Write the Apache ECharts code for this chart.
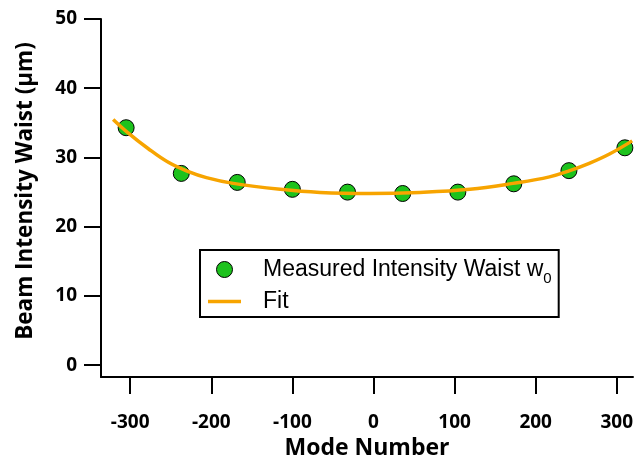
<!DOCTYPE html>
<html>
<head>
<meta charset="utf-8">
<script src="https://cdn.jsdelivr.net/npm/echarts@6/dist/echarts.min.js"></script>
<style>html,body{margin:0;padding:0;background:#fff}#c{width:638px;height:458px}</style>
</head>
<body>
<div id="c"></div>
<script>
// Measured data
var modeNumbers = [-305, -237, -168, -100, -32, 36, 104, 173, 241, 310];
var waistValues = [34.3, 27.7, 26.4, 25.4, 25.0, 24.8, 25.0, 26.2, 28.1, 31.4];
// Fit curve
var fitX = [-321, -303, -278, -253, -229, -206, -173, -115, -66, -5, 57, 119, 172, 217, 242, 266, 291, 319];
var fitY = [35.5, 33.6, 31.3, 29.3, 28.0, 27.1, 26.26, 25.4, 24.95, 24.8, 24.95, 25.4, 26.26, 27.2, 28.1, 29.15, 30.5, 32.4];
// Tick labels
var xTicks = [-300, -200, -100, 0, 100, 200, 300];
var yTicks = [0, 10, 20, 30, 40, 50];

var chart = echarts.init(document.getElementById('c'));
var labelFont = {fontFamily: 'Open Sans', fontWeight: 'bold', fontSize: 19, color: '#000'};
chart.setOption({
  animation: false,
  grid: {left: 101, right: 5, top: 19, bottom: 81, containLabel: false, outerBoundsMode: 'none'},
  legend: {
    orient: 'vertical',
    left: 200, top: 250,
    padding: [8, 7, 4, 8],
    borderColor: '#000', borderWidth: 2,
    itemWidth: 33, itemHeight: 16, itemGap: 4,
    symbolKeepAspect: true,
    textStyle: {
      fontFamily: 'Liberation Sans', fontSize: 23, color: '#000',
      rich: {
        a: {fontFamily: 'Liberation Sans', fontSize: 23, color: '#000', lineHeight: 25, padding: [0, 0, 0, 17]},
        s: {fontFamily: 'Liberation Sans', fontSize: 15, color: '#000', lineHeight: 25, verticalAlign: 'bottom', padding: [0, 0, -4, 0]}
      }
    },
    formatter: function (name) {
      if (name.indexOf('Measured') === 0) return '{a|Measured Intensity Waist w}{s|0}';
      return '{a|' + name + '}';
    },
    data: [
      {name: 'Measured Intensity Waist w0', icon: 'circle', itemStyle: {color: '#1dc21d', borderColor: '#000', borderWidth: 1}},
      {name: 'Fit', icon: 'path://M0,0H33V3.5H0Z', itemStyle: {color: '#f7a400', borderWidth: 0}}
    ]
  },
  xAxis: {
    type: 'value', min: -336, max: 320,
    name: 'Mode Number', nameLocation: 'middle', nameGap: 60,
    nameTextStyle: {fontFamily: 'Open Sans', fontWeight: 'bold', fontSize: 23, color: '#000'},
    axisLine: {show: true, onZero: false, lineStyle: {color: '#000', width: 2}},
    axisTick: {show: true, length: 17, lineStyle: {color: '#000', width: 2}, customValues: xTicks},
    axisLabel: Object.assign({margin: 36, customValues: xTicks}, labelFont),
    splitLine: {show: false}
  },
  yAxis: {
    type: 'value', min: -1.7, max: 50,
    name: 'Beam Intensity Waist (\u03bcm)', nameLocation: 'middle', nameGap: 64,
    nameTextStyle: {fontFamily: 'Open Sans', fontWeight: 'bold', fontSize: 22.5, color: '#000', padding: [0, 0, 0, 14]},
    axisLine: {show: true, onZero: false, lineStyle: {color: '#000', width: 2}},
    axisTick: {show: true, length: 17, lineStyle: {color: '#000', width: 2}, customValues: yTicks},
    axisLabel: Object.assign({margin: 24, customValues: yTicks}, labelFont),
    splitLine: {show: false}
  },
  series: [
    {
      name: 'Fit', type: 'line', smooth: 0.4, showSymbol: false, symbol: 'none',
      lineStyle: {color: '#f7a400', width: 3.5},
      itemStyle: {color: '#f7a400'},
      data: fitX.map(function (x, i) { return [x, fitY[i]]; }),
      z: 3
    },
    {
      name: 'Measured Intensity Waist w0', type: 'scatter', symbol: 'circle', symbolSize: 16,
      itemStyle: {color: '#1dc21d', borderColor: '#000', borderWidth: 1, opacity: 1},
      data: modeNumbers.map(function (x, i) { return [x, waistValues[i]]; }),
      z: 2
    }
  ]
});
</script>
</body>
</html>
